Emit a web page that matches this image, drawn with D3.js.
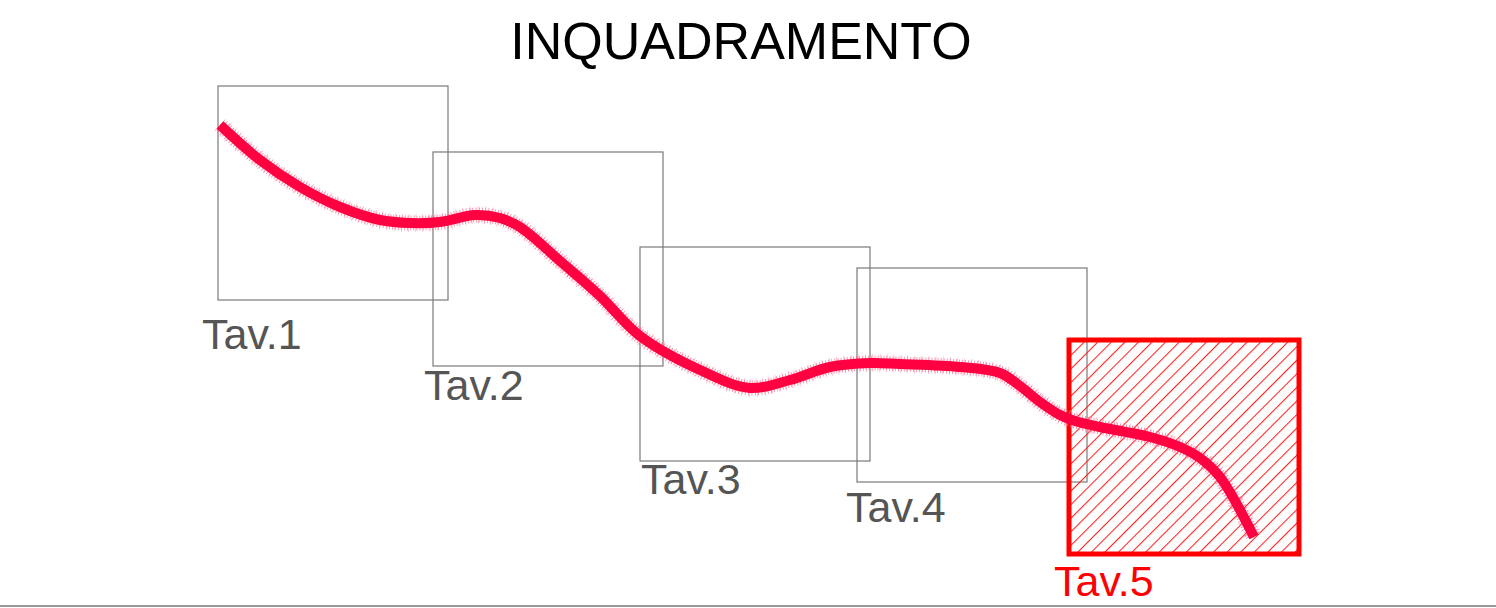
<!DOCTYPE html>
<html>
<head>
<meta charset="utf-8">
<script src="https://cdn.jsdelivr.net/npm/d3@7"></script>
<style>
  body { margin: 0; background: #fff; }
  svg { display: block; font-family: "Liberation Sans", Arial, sans-serif; }
</style>
</head>
<body>
<svg id="chart"></svg>
<script>
var width = 1496
var height = 608

var title = "INQUADRAMENTO"

// sheets (tavole): top-left corner in map units, all the same size
var tavLabels = ["Tav.1", "Tav.2", "Tav.3", "Tav.4", "Tav.5"]
var tavX = [218, 433, 640, 857, 1069]
var tavY = [86, 152, 247, 268, 340]
var tavW = 230
var tavH = 214
var selected = 4   // Tav.5 is highlighted

// route traced across the sheets
var routeX = [220, 260, 300, 340, 380, 410, 440, 475, 500, 520, 560, 600, 640, 700, 750, 790, 830, 870, 900, 960, 1000, 1020, 1040, 1060, 1075, 1100, 1150, 1180, 1200, 1220, 1254]
var routeY = [125, 160, 187, 207, 220, 223, 222, 215, 218, 227, 261, 296, 336, 370, 388, 380, 367, 363, 364, 367, 373, 386, 402, 415, 421, 427, 437, 447, 458, 477, 537]

var x = d3.scaleLinear().domain([0, 1496]).range([0, width])
var y = d3.scaleLinear().domain([0, 608]).range([0, height])

var svg = d3.select("#chart")
  .attr("width", width)
  .attr("height", height)

// hatch pattern for the selected sheet
var defs = svg.append("defs")
defs.append("pattern")
  .attr("id", "hatch")
  .attr("patternUnits", "userSpaceOnUse")
  .attr("width", 9.6)
  .attr("height", 9.6)
  .attr("patternTransform", "rotate(45)")
  .append("line")
    .attr("x1", 0.5).attr("y1", 0)
    .attr("x2", 0.5).attr("y2", 9.6)
    .attr("stroke", "#ff2020")
    .attr("stroke-width", 1.1)

svg.append("text")
  .attr("x", width / 2 - 7)
  .attr("y", 59)
  .attr("text-anchor", "middle")
  .attr("font-size", 52)
  .attr("fill", "#000")
  .text(title)

var tavData = tavLabels.map(function(t, i) {
  return { label: t, x: tavX[i], y: tavY[i], sel: i === selected }
})

// plain sheets
svg.selectAll("rect.tav")
  .data(tavData.filter(function(d) { return !d.sel }))
  .enter()
  .append("rect")
    .attr("class", "tav")
    .attr("x", d => x(d.x))
    .attr("y", d => y(d.y))
    .attr("width", x(tavW) - x(0))
    .attr("height", y(tavH) - y(0))
    .attr("fill", "none")
    .attr("stroke", "#7a7a7a")
    .attr("stroke-width", 1.2)

// selected sheet
var sel = tavData[selected]
svg.append("rect")
  .attr("x", x(sel.x))
  .attr("y", y(sel.y))
  .attr("width", x(tavW) - x(0))
  .attr("height", y(tavH) - y(0))
  .attr("fill", "url(#hatch)")
  .attr("stroke", "#ff0000")
  .attr("stroke-width", 5)

// labels under each sheet
var labelDx = [-16, -9, 1, -11, -15]
var labelDy = [49, 34, 33, 40, 42]
svg.selectAll("text.tavLabel")
  .data(tavData)
  .enter()
  .append("text")
    .attr("class", "tavLabel")
    .attr("x", (d, i) => x(d.x) + labelDx[i])
    .attr("y", (d, i) => y(d.y + tavH) + labelDy[i])
    .attr("font-size", 43)
    .attr("fill", d => d.sel ? "#ff0000" : "#555")
    .text(d => d.label)

// the route
var route = routeX.map((v, i) => [v, routeY[i]])
var line = d3.line()
  .x(d => x(d[0]))
  .y(d => y(d[1]))
  .curve(d3.curveCatmullRom.alpha(0.5))

// fuzzy halo (short hairs across the line)
svg.append("path")
  .attr("d", line(route))
  .attr("fill", "none")
  .attr("stroke", "#ff5c86")
  .attr("stroke-width", 15)
  .attr("stroke-dasharray", "0.8 2.2")
  .attr("opacity", 0.8)
svg.append("path")
  .attr("d", line(route))
  .attr("fill", "none")
  .attr("stroke", "#ff7fa0")
  .attr("stroke-width", 18)
  .attr("stroke-dasharray", "0.6 6.4")
  .attr("opacity", 0.7)

svg.append("path")
  .attr("d", line(route))
  .attr("fill", "none")
  .attr("stroke", "#ff0040")
  .attr("stroke-width", 10)
  .attr("stroke-linecap", "butt")

// bottom rule
svg.append("line")
  .attr("x1", 0).attr("x2", width)
  .attr("y1", 606).attr("y2", 606)
  .attr("stroke", "#999")
  .attr("stroke-width", 2)
</script>
</body>
</html>
